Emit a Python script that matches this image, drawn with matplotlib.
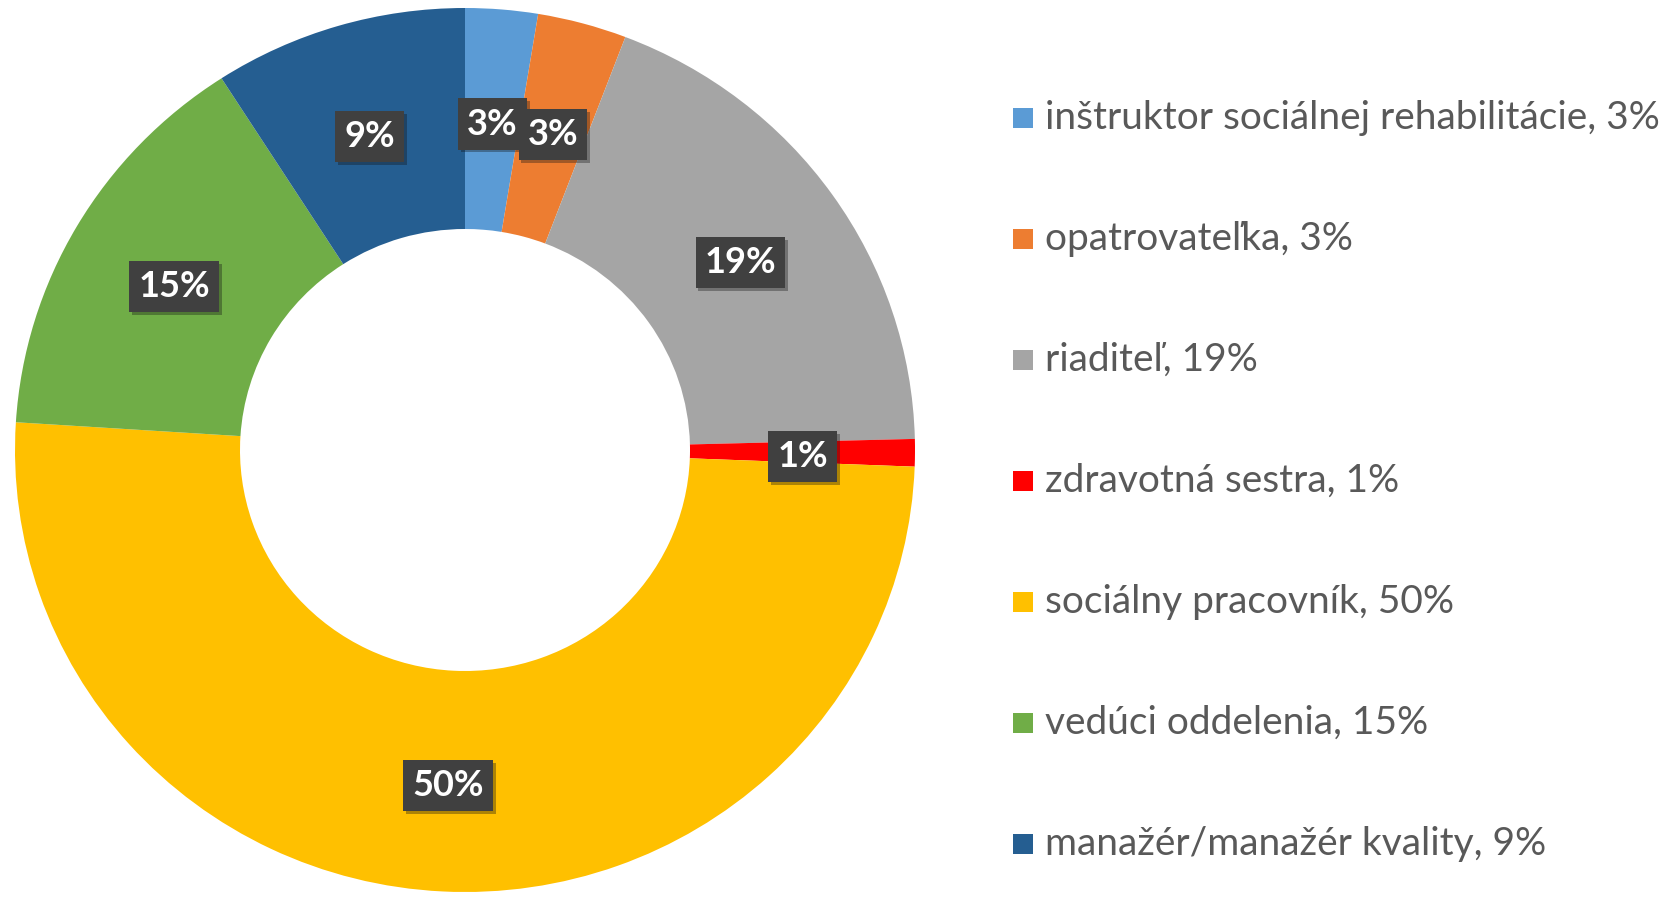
import matplotlib
matplotlib.use("Agg")
import matplotlib.pyplot as plt
from matplotlib.patches import Rectangle
import matplotlib.patheffects as pe
import numpy as np

categories = [
    "inštruktor sociálnej rehabilitácie",
    "opatrovateľka",
    "riaditeľ",
    "zdravotná sestra",
    "sociálny pracovník",
    "vedúci oddelenia",
    "manažér/manažér kvality",
]
values = [2.6, 3.2, 18.8, 1.0, 50.4, 14.9, 9.1]
pct_labels = ["3%", "3%", "19%", "1%", "50%", "15%", "9%"]
colors = ["#5B9BD5", "#ED7D31", "#A5A5A5", "#FF0000", "#FFC000", "#70AD47", "#255E91"]

plt.rcParams['font.family'] = ['Lato', 'DejaVu Sans']

W, H = 1676, 899
fig = plt.figure(figsize=(W / 100, H / 100), dpi=100)
fig.patch.set_facecolor("white")

cx, cy, RX, RY = 465, 450, 450, 442
ax = fig.add_axes([(cx - RX) / W, (H - cy - RY) / H, 2 * RX / W, 2 * RY / H])

wedges, _ = ax.pie(values, colors=colors, startangle=90, counterclock=False,
                   radius=1.0, wedgeprops=dict(width=0.5, edgecolor="none"))
ax.set_aspect("auto")
ax.set_xlim(-1, 1)
ax.set_ylim(-1, 1)
ax.axis("off")

total = sum(values)
cum = 0
for v, lab in zip(values, pct_labels):
    mid = cum + v / 2
    cum += v
    ang = np.deg2rad(90 - 360 * mid / total)
    r = 0.75
    t = ax.text(r * np.cos(ang), r * np.sin(ang) - 0.01, lab, ha="center", va="center",
                color="white", fontsize=26, fontweight="bold",
                bbox=dict(boxstyle="square,pad=0.25", fc="#404040", ec="none"))
    t.get_bbox_patch().set_path_effects([pe.SimplePatchShadow(offset=(2, -2), alpha=0.35), pe.Normal()])

# legend
for i, (cat, lab, col) in enumerate(zip(categories, pct_labels, colors)):
    y = 118 + 121 * i
    fig.patches.append(Rectangle((1013 / W, (H - y - 10) / H), 20 / W, 20 / H,
                                 transform=fig.transFigure, fc=col, ec="none"))
    fig.text(1045 / W, (H - y) / H, f"{cat}, {lab}", ha="left", va="center",
             fontsize=28, color="#595959")

fig.savefig("out.png", dpi=100)
